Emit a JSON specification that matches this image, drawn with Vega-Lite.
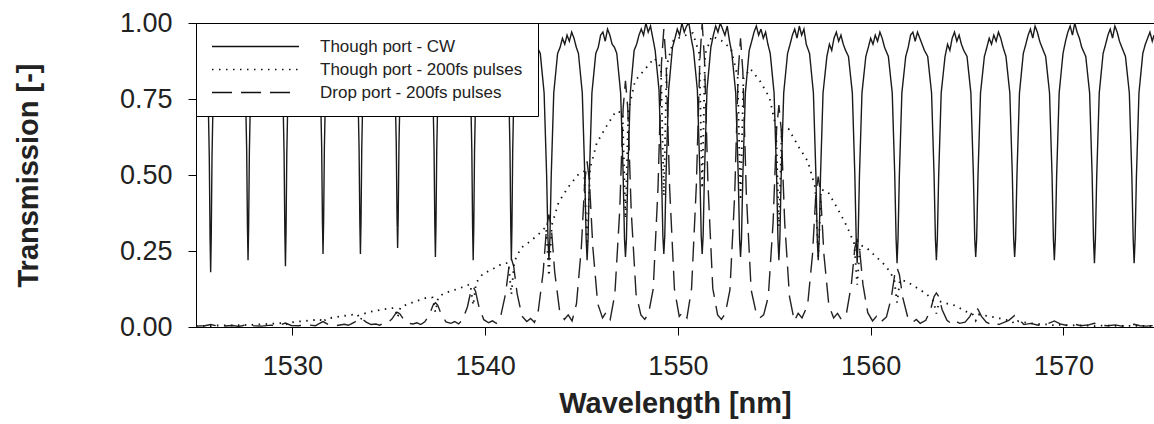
{
"$schema":"https://vega.github.io/schema/vega-lite/v6.json",
"width":958,"height":304,
"autosize":"none",
"padding":{"left":196,"top":23,"right":0,"bottom":97},
"config":{"view":{"stroke":"#000","strokeWidth":1},"font":"Liberation Sans","background":"#fff"},
"datasets":{
"cw":[
{"w":1525.0,"t":0.99},
{"w":1525.36,"t":0.962},{"w":1525.61,"t":0.828},{"w":1525.69,"t":0.557},{"w":1525.73,"t":0.292},{"w":1525.76,"t":0.18},{"w":1525.79,"t":0.292},{"w":1525.83,"t":0.557},{"w":1525.91,"t":0.828},{"w":1526.16,"t":0.962},{"w":1526.73,"t":0.99},
{"w":1527.3,"t":0.964},{"w":1527.55,"t":0.836},{"w":1527.63,"t":0.579},{"w":1527.67,"t":0.326},{"w":1527.7,"t":0.22},{"w":1527.73,"t":0.326},{"w":1527.77,"t":0.579},{"w":1527.85,"t":0.836},{"w":1528.1,"t":0.964},{"w":1528.67,"t":0.99},
{"w":1529.24,"t":0.963},{"w":1529.49,"t":0.832},{"w":1529.57,"t":0.568},{"w":1529.61,"t":0.309},{"w":1529.64,"t":0.2},{"w":1529.67,"t":0.309},{"w":1529.71,"t":0.568},{"w":1529.79,"t":0.832},{"w":1530.04,"t":0.963},{"w":1530.61,"t":0.99},
{"w":1531.19,"t":0.965},{"w":1531.44,"t":0.84},{"w":1531.52,"t":0.59},{"w":1531.56,"t":0.344},{"w":1531.59,"t":0.24},{"w":1531.62,"t":0.344},{"w":1531.66,"t":0.59},{"w":1531.74,"t":0.84},{"w":1531.99,"t":0.965},{"w":1532.56,"t":0.99},
{"w":1533.13,"t":0.965},{"w":1533.38,"t":0.84},{"w":1533.46,"t":0.59},{"w":1533.5,"t":0.344},{"w":1533.53,"t":0.24},{"w":1533.56,"t":0.344},{"w":1533.6,"t":0.59},{"w":1533.68,"t":0.84},{"w":1533.93,"t":0.965},{"w":1534.5,"t":0.99},
{"w":1535.06,"t":0.965},{"w":1535.31,"t":0.844},{"w":1535.39,"t":0.6},{"w":1535.43,"t":0.361},{"w":1535.46,"t":0.26},{"w":1535.49,"t":0.361},{"w":1535.53,"t":0.6},{"w":1535.61,"t":0.844},{"w":1535.86,"t":0.965},{"w":1536.44,"t":0.99},
{"w":1537.02,"t":0.964},{"w":1537.27,"t":0.838},{"w":1537.35,"t":0.584},{"w":1537.39,"t":0.335},{"w":1537.42,"t":0.23},{"w":1537.45,"t":0.335},{"w":1537.49,"t":0.584},{"w":1537.57,"t":0.838},{"w":1537.82,"t":0.964},{"w":1538.4,"t":0.99},
{"w":1538.98,"t":0.964},{"w":1539.23,"t":0.836},{"w":1539.31,"t":0.579},{"w":1539.35,"t":0.326},{"w":1539.38,"t":0.22},{"w":1539.41,"t":0.326},{"w":1539.45,"t":0.579},{"w":1539.53,"t":0.836},{"w":1539.78,"t":0.964},{"w":1540.37,"t":0.99},
{"w":1540.96,"t":0.964},{"w":1541.21,"t":0.836},{"w":1541.29,"t":0.579},{"w":1541.33,"t":0.326},{"w":1541.36,"t":0.22},{"w":1541.39,"t":0.326},{"w":1541.43,"t":0.579},{"w":1541.51,"t":0.836},{"w":1541.76,"t":0.964},{"w":1542.33,"t":0.97},
{"w":1542.86,"t":0.9},{"w":1543.06,"t":0.77},{"w":1543.19,"t":0.5},{"w":1543.26,"t":0.29},{"w":1543.31,"t":0.22},{"w":1543.36,"t":0.29},{"w":1543.43,"t":0.5},{"w":1543.56,"t":0.77},{"w":1543.76,"t":0.9},
{"w":1543.89,"t":0.92},{"w":1544.01,"t":0.95},{"w":1544.13,"t":0.93},{"w":1544.25,"t":0.96},{"w":1544.37,"t":0.94},{"w":1544.49,"t":0.97},{"w":1544.61,"t":0.95},{"w":1544.73,"t":0.92},
{"w":1544.84,"t":0.9},{"w":1545.04,"t":0.77},{"w":1545.17,"t":0.5},{"w":1545.24,"t":0.29},{"w":1545.29,"t":0.22},{"w":1545.34,"t":0.29},{"w":1545.41,"t":0.5},{"w":1545.54,"t":0.77},{"w":1545.74,"t":0.9},
{"w":1545.87,"t":0.92},{"w":1545.99,"t":0.96},{"w":1546.11,"t":0.97},{"w":1546.23,"t":0.94},{"w":1546.35,"t":0.98},{"w":1546.47,"t":0.96},{"w":1546.59,"t":0.93},{"w":1546.71,"t":0.92},
{"w":1546.83,"t":0.9},{"w":1547.03,"t":0.77},{"w":1547.16,"t":0.5},{"w":1547.23,"t":0.29},{"w":1547.28,"t":0.23},{"w":1547.33,"t":0.29},{"w":1547.4,"t":0.5},{"w":1547.53,"t":0.77},{"w":1547.73,"t":0.91},
{"w":1547.86,"t":0.93},{"w":1547.98,"t":0.96},{"w":1548.1,"t":0.98},{"w":1548.22,"t":0.96},{"w":1548.34,"t":1.0},{"w":1548.46,"t":0.97},{"w":1548.58,"t":0.99},{"w":1548.7,"t":0.95},
{"w":1548.82,"t":0.91},{"w":1549.02,"t":0.78},{"w":1549.15,"t":0.51},{"w":1549.22,"t":0.3},{"w":1549.27,"t":0.24},{"w":1549.32,"t":0.3},{"w":1549.39,"t":0.51},{"w":1549.52,"t":0.78},{"w":1549.72,"t":0.92},
{"w":1549.85,"t":0.95},{"w":1549.97,"t":0.98},{"w":1550.09,"t":0.96},{"w":1550.21,"t":1.0},{"w":1550.33,"t":0.97},{"w":1550.45,"t":0.99},{"w":1550.57,"t":1.0},{"w":1550.69,"t":0.95},
{"w":1550.81,"t":0.91},{"w":1551.01,"t":0.78},{"w":1551.14,"t":0.51},{"w":1551.21,"t":0.3},{"w":1551.26,"t":0.24},{"w":1551.31,"t":0.3},{"w":1551.38,"t":0.51},{"w":1551.51,"t":0.78},{"w":1551.71,"t":0.92},
{"w":1551.84,"t":0.96},{"w":1551.96,"t":0.99},{"w":1552.08,"t":0.97},{"w":1552.2,"t":1.0},{"w":1552.32,"t":0.98},{"w":1552.44,"t":0.96},{"w":1552.56,"t":0.99},{"w":1552.68,"t":0.94},
{"w":1552.8,"t":0.9},{"w":1553.0,"t":0.77},{"w":1553.13,"t":0.5},{"w":1553.2,"t":0.29},{"w":1553.25,"t":0.23},{"w":1553.3,"t":0.29},{"w":1553.37,"t":0.5},{"w":1553.5,"t":0.77},{"w":1553.7,"t":0.91},
{"w":1553.83,"t":0.94},{"w":1553.95,"t":0.97},{"w":1554.07,"t":0.99},{"w":1554.19,"t":0.96},{"w":1554.31,"t":0.98},{"w":1554.43,"t":0.95},{"w":1554.55,"t":0.97},{"w":1554.67,"t":0.93},
{"w":1554.79,"t":0.9},{"w":1554.99,"t":0.77},{"w":1555.12,"t":0.5},{"w":1555.19,"t":0.29},{"w":1555.24,"t":0.22},{"w":1555.29,"t":0.29},{"w":1555.36,"t":0.5},{"w":1555.49,"t":0.77},{"w":1555.69,"t":0.9},
{"w":1555.82,"t":0.93},{"w":1555.94,"t":0.96},{"w":1556.06,"t":0.98},{"w":1556.18,"t":0.95},{"w":1556.3,"t":0.99},{"w":1556.42,"t":0.96},{"w":1556.54,"t":0.98},{"w":1556.66,"t":0.93},
{"w":1556.83,"t":0.9},{"w":1557.03,"t":0.77},{"w":1557.16,"t":0.5},{"w":1557.23,"t":0.29},{"w":1557.28,"t":0.22},{"w":1557.33,"t":0.29},{"w":1557.4,"t":0.5},{"w":1557.53,"t":0.77},{"w":1557.73,"t":0.89},
{"w":1557.86,"t":0.93},{"w":1557.98,"t":0.91},{"w":1558.1,"t":0.95},{"w":1558.22,"t":0.97},{"w":1558.34,"t":0.94},{"w":1558.46,"t":0.96},{"w":1558.58,"t":0.93},{"w":1558.7,"t":0.91},
{"w":1558.85,"t":0.89},{"w":1559.05,"t":0.77},{"w":1559.18,"t":0.5},{"w":1559.25,"t":0.29},{"w":1559.3,"t":0.21},{"w":1559.35,"t":0.29},{"w":1559.42,"t":0.5},{"w":1559.55,"t":0.77},{"w":1559.75,"t":0.89},
{"w":1559.88,"t":0.92},{"w":1560.0,"t":0.95},{"w":1560.12,"t":0.93},{"w":1560.24,"t":0.96},{"w":1560.36,"t":0.94},{"w":1560.48,"t":0.97},{"w":1560.6,"t":0.95},{"w":1560.72,"t":0.92},
{"w":1560.92,"t":0.89},{"w":1561.12,"t":0.77},{"w":1561.25,"t":0.5},{"w":1561.32,"t":0.29},{"w":1561.37,"t":0.21},{"w":1561.42,"t":0.29},{"w":1561.49,"t":0.5},{"w":1561.62,"t":0.77},{"w":1561.82,"t":0.89},
{"w":1561.95,"t":0.92},{"w":1562.07,"t":0.96},{"w":1562.19,"t":0.97},{"w":1562.31,"t":0.94},{"w":1562.43,"t":0.97},{"w":1562.55,"t":0.95},{"w":1562.67,"t":0.93},{"w":1562.79,"t":0.91},
{"w":1562.96,"t":0.89},{"w":1563.16,"t":0.77},{"w":1563.29,"t":0.5},{"w":1563.36,"t":0.29},{"w":1563.41,"t":0.22},{"w":1563.46,"t":0.29},{"w":1563.53,"t":0.5},{"w":1563.66,"t":0.77},{"w":1563.86,"t":0.89},
{"w":1563.99,"t":0.93},{"w":1564.11,"t":0.91},{"w":1564.23,"t":0.95},{"w":1564.35,"t":0.97},{"w":1564.47,"t":0.94},{"w":1564.59,"t":0.96},{"w":1564.71,"t":0.93},{"w":1564.83,"t":0.91},
{"w":1565.0,"t":0.89},{"w":1565.2,"t":0.77},{"w":1565.33,"t":0.5},{"w":1565.4,"t":0.29},{"w":1565.45,"t":0.23},{"w":1565.5,"t":0.29},{"w":1565.57,"t":0.5},{"w":1565.7,"t":0.77},{"w":1565.9,"t":0.89},
{"w":1566.03,"t":0.92},{"w":1566.15,"t":0.95},{"w":1566.27,"t":0.93},{"w":1566.39,"t":0.96},{"w":1566.51,"t":0.94},{"w":1566.63,"t":0.97},{"w":1566.75,"t":0.95},{"w":1566.87,"t":0.92},
{"w":1567.02,"t":0.89},{"w":1567.22,"t":0.77},{"w":1567.35,"t":0.5},{"w":1567.42,"t":0.29},{"w":1567.47,"t":0.23},{"w":1567.52,"t":0.29},{"w":1567.59,"t":0.5},{"w":1567.72,"t":0.77},{"w":1567.92,"t":0.9},
{"w":1568.05,"t":0.93},{"w":1568.17,"t":0.96},{"w":1568.29,"t":0.98},{"w":1568.41,"t":0.95},{"w":1568.53,"t":0.99},{"w":1568.65,"t":0.97},{"w":1568.77,"t":0.94},{"w":1568.89,"t":0.92},
{"w":1569.08,"t":0.89},{"w":1569.28,"t":0.77},{"w":1569.41,"t":0.5},{"w":1569.48,"t":0.29},{"w":1569.53,"t":0.22},{"w":1569.58,"t":0.29},{"w":1569.65,"t":0.5},{"w":1569.78,"t":0.77},{"w":1569.98,"t":0.9},
{"w":1570.11,"t":0.94},{"w":1570.23,"t":0.97},{"w":1570.35,"t":0.99},{"w":1570.47,"t":0.96},{"w":1570.59,"t":1.0},{"w":1570.71,"t":0.97},{"w":1570.83,"t":0.95},{"w":1570.95,"t":0.92},
{"w":1571.16,"t":0.89},{"w":1571.36,"t":0.77},{"w":1571.49,"t":0.5},{"w":1571.56,"t":0.29},{"w":1571.61,"t":0.21},{"w":1571.66,"t":0.29},{"w":1571.73,"t":0.5},{"w":1571.86,"t":0.77},{"w":1572.06,"t":0.9},
{"w":1572.19,"t":0.93},{"w":1572.31,"t":0.96},{"w":1572.43,"t":0.98},{"w":1572.55,"t":0.95},{"w":1572.67,"t":0.99},{"w":1572.79,"t":0.97},{"w":1572.91,"t":0.94},{"w":1573.03,"t":0.92},
{"w":1573.22,"t":0.89},{"w":1573.42,"t":0.77},{"w":1573.55,"t":0.5},{"w":1573.62,"t":0.29},{"w":1573.67,"t":0.21},{"w":1573.72,"t":0.29},{"w":1573.79,"t":0.5},{"w":1573.92,"t":0.77},{"w":1574.12,"t":0.9},
{"w":1574.25,"t":0.93},{"w":1574.37,"t":0.95},{"w":1574.49,"t":0.97},{"w":1574.61,"t":0.94},{"w":1574.7,"t":0.96}
],
"tp":[
{"w":1525.0,"t":0.004},{"w":1525.5,"t":0.004},
{"w":1525.61,"t":0.004},{"w":1525.76,"t":0.003},{"w":1525.91,"t":0.005},{"w":1526.5,"t":0.005},{"w":1527.1,"t":0.006},
{"w":1527.55,"t":0.007},{"w":1527.7,"t":0.004},{"w":1527.85,"t":0.007},{"w":1528.4,"t":0.009},{"w":1529.0,"t":0.011},
{"w":1529.49,"t":0.013},{"w":1529.64,"t":0.007},{"w":1529.79,"t":0.014},{"w":1530.3,"t":0.018},{"w":1531.0,"t":0.022},
{"w":1531.44,"t":0.025},{"w":1531.59,"t":0.014},{"w":1531.74,"t":0.027},{"w":1532.3,"t":0.033},{"w":1532.9,"t":0.039},
{"w":1533.38,"t":0.042},{"w":1533.47,"t":0.03},{"w":1533.53,"t":0.022},{"w":1533.59,"t":0.03},{"w":1533.68,"t":0.043},{"w":1534.03,"t":0.05},{"w":1534.53,"t":0.056},{"w":1535.03,"t":0.061},
{"w":1535.31,"t":0.063},{"w":1535.4,"t":0.044},{"w":1535.46,"t":0.032},{"w":1535.52,"t":0.045},{"w":1535.61,"t":0.065},{"w":1535.96,"t":0.075},{"w":1536.46,"t":0.086},{"w":1536.96,"t":0.096},
{"w":1537.27,"t":0.097},{"w":1537.36,"t":0.068},{"w":1537.42,"t":0.049},{"w":1537.48,"t":0.069},{"w":1537.57,"t":0.099},{"w":1537.92,"t":0.112},{"w":1538.42,"t":0.122},{"w":1538.92,"t":0.133},
{"w":1539.23,"t":0.141},{"w":1539.32,"t":0.099},{"w":1539.38,"t":0.071},{"w":1539.44,"t":0.1},{"w":1539.53,"t":0.145},{"w":1539.88,"t":0.175},{"w":1540.38,"t":0.19},{"w":1540.88,"t":0.208},
{"w":1541.21,"t":0.211},{"w":1541.3,"t":0.148},{"w":1541.36,"t":0.107},{"w":1541.42,"t":0.15},{"w":1541.51,"t":0.215},{"w":1541.86,"t":0.26},{"w":1542.36,"t":0.283},{"w":1542.86,"t":0.31},
{"w":1543.16,"t":0.33},{"w":1543.25,"t":0.231},{"w":1543.31,"t":0.167},{"w":1543.37,"t":0.235},{"w":1543.46,"t":0.335},{"w":1543.81,"t":0.41},{"w":1544.31,"t":0.46},{"w":1544.81,"t":0.5},
{"w":1545.14,"t":0.512},{"w":1545.23,"t":0.358},{"w":1545.29,"t":0.259},{"w":1545.35,"t":0.36},{"w":1545.44,"t":0.52},{"w":1545.79,"t":0.605},{"w":1546.29,"t":0.66},{"w":1546.79,"t":0.71},
{"w":1547.13,"t":0.705},{"w":1547.22,"t":0.493},{"w":1547.28,"t":0.356},{"w":1547.34,"t":0.495},{"w":1547.43,"t":0.712},{"w":1547.78,"t":0.81},{"w":1548.28,"t":0.847},{"w":1548.78,"t":0.885},
{"w":1549.12,"t":0.853},{"w":1549.21,"t":0.596},{"w":1549.27,"t":0.431},{"w":1549.33,"t":0.6},{"w":1549.42,"t":0.86},{"w":1549.77,"t":0.943},{"w":1550.27,"t":0.957},{"w":1550.77,"t":0.967},
{"w":1551.11,"t":0.9},{"w":1551.2,"t":0.629},{"w":1551.26,"t":0.455},{"w":1551.32,"t":0.628},{"w":1551.41,"t":0.898},{"w":1551.76,"t":0.957},{"w":1552.26,"t":0.942},{"w":1552.76,"t":0.915},
{"w":1553.1,"t":0.823},{"w":1553.19,"t":0.575},{"w":1553.25,"t":0.416},{"w":1553.31,"t":0.572},{"w":1553.4,"t":0.817},{"w":1553.75,"t":0.85},{"w":1554.25,"t":0.81},{"w":1554.75,"t":0.755},
{"w":1555.09,"t":0.656},{"w":1555.18,"t":0.458},{"w":1555.24,"t":0.331},{"w":1555.3,"t":0.455},{"w":1555.39,"t":0.648},{"w":1555.74,"t":0.652},{"w":1556.24,"t":0.595},{"w":1556.74,"t":0.545},
{"w":1557.13,"t":0.458},{"w":1557.22,"t":0.32},{"w":1557.28,"t":0.231},{"w":1557.34,"t":0.318},{"w":1557.43,"t":0.452},{"w":1557.78,"t":0.445},{"w":1558.28,"t":0.39},{"w":1558.78,"t":0.33},
{"w":1559.15,"t":0.274},{"w":1559.24,"t":0.192},{"w":1559.3,"t":0.139},{"w":1559.36,"t":0.19},{"w":1559.45,"t":0.27},{"w":1559.8,"t":0.26},{"w":1560.3,"t":0.23},{"w":1560.8,"t":0.2},
{"w":1561.22,"t":0.158},{"w":1561.31,"t":0.11},{"w":1561.37,"t":0.08},{"w":1561.43,"t":0.109},{"w":1561.52,"t":0.155},{"w":1561.87,"t":0.15},{"w":1562.37,"t":0.13},{"w":1562.87,"t":0.11},
{"w":1563.26,"t":0.086},{"w":1563.35,"t":0.06},{"w":1563.41,"t":0.044},{"w":1563.47,"t":0.06},{"w":1563.56,"t":0.085},{"w":1563.91,"t":0.078},{"w":1564.41,"t":0.07},{"w":1564.91,"t":0.052},
{"w":1565.3,"t":0.041},{"w":1565.45,"t":0.021},{"w":1565.6,"t":0.041},{"w":1566.1,"t":0.036},{"w":1566.7,"t":0.028},
{"w":1567.32,"t":0.019},{"w":1567.47,"t":0.01},{"w":1567.62,"t":0.019},{"w":1568.2,"t":0.013},{"w":1568.9,"t":0.009},
{"w":1569.38,"t":0.008},{"w":1569.53,"t":0.004},{"w":1569.68,"t":0.007},{"w":1570.3,"t":0.006},{"w":1571.0,"t":0.005},
{"w":1571.46,"t":0.005},{"w":1571.61,"t":0.003},{"w":1571.76,"t":0.005},{"w":1572.5,"t":0.004},
{"w":1573.52,"t":0.004},{"w":1573.67,"t":0.002},{"w":1573.82,"t":0.004},{"w":1574.7,"t":0.003}
],
"dp":[
{"w":1525.0,"t":0.003},
{"w":1525.46,"t":0.004},{"w":1525.76,"t":0.008},{"w":1526.06,"t":0.004},{"w":1526.4,"t":0.003},{"w":1526.9,"t":0.005},{"w":1527.2,"t":0.002},
{"w":1527.4,"t":0.004},{"w":1527.7,"t":0.009},{"w":1528.0,"t":0.004},{"w":1528.4,"t":0.003},{"w":1528.9,"t":0.006},{"w":1529.2,"t":0.003},
{"w":1529.34,"t":0.006},{"w":1529.64,"t":0.013},{"w":1529.94,"t":0.005},{"w":1530.3,"t":0.004},{"w":1530.8,"t":0.007},{"w":1531.2,"t":0.004},
{"w":1531.29,"t":0.008},{"w":1531.59,"t":0.018},{"w":1531.89,"t":0.007},{"w":1532.3,"t":0.005},{"w":1532.7,"t":0.009},{"w":1532.9,"t":0.006},
{"w":1532.98,"t":0.008},{"w":1533.23,"t":0.016},{"w":1533.41,"t":0.025},{"w":1533.53,"t":0.028},{"w":1533.65,"t":0.025},{"w":1533.83,"t":0.016},{"w":1534.08,"t":0.008},{"w":1534.33,"t":0.01},{"w":1534.53,"t":0.006},{"w":1534.73,"t":0.012},
{"w":1534.91,"t":0.012},{"w":1535.16,"t":0.026},{"w":1535.34,"t":0.043},{"w":1535.46,"t":0.048},{"w":1535.58,"t":0.043},{"w":1535.76,"t":0.026},{"w":1536.01,"t":0.012},{"w":1536.26,"t":0.01},{"w":1536.46,"t":0.014},{"w":1536.66,"t":0.008},
{"w":1536.87,"t":0.017},{"w":1537.12,"t":0.042},{"w":1537.3,"t":0.072},{"w":1537.42,"t":0.08},{"w":1537.54,"t":0.072},{"w":1537.72,"t":0.042},{"w":1537.97,"t":0.017},{"w":1538.22,"t":0.012},{"w":1538.42,"t":0.018},{"w":1538.62,"t":0.01},
{"w":1538.83,"t":0.024},{"w":1539.08,"t":0.066},{"w":1539.26,"t":0.118},{"w":1539.38,"t":0.132},{"w":1539.5,"t":0.118},{"w":1539.68,"t":0.066},{"w":1539.93,"t":0.024},{"w":1540.18,"t":0.014},{"w":1540.38,"t":0.02},{"w":1540.58,"t":0.012},
{"w":1540.81,"t":0.036},{"w":1541.06,"t":0.11},{"w":1541.24,"t":0.2},{"w":1541.36,"t":0.225},{"w":1541.48,"t":0.2},{"w":1541.66,"t":0.11},{"w":1541.91,"t":0.036},{"w":1542.16,"t":0.018},{"w":1542.36,"t":0.028},{"w":1542.56,"t":0.015},
{"w":1542.76,"t":0.055},{"w":1543.01,"t":0.18},{"w":1543.19,"t":0.33},{"w":1543.31,"t":0.37},{"w":1543.43,"t":0.33},{"w":1543.61,"t":0.18},{"w":1543.86,"t":0.055},{"w":1544.11,"t":0.025},{"w":1544.31,"t":0.04},{"w":1544.51,"t":0.02},
{"w":1544.74,"t":0.077},{"w":1544.99,"t":0.26},{"w":1545.17,"t":0.48},{"w":1545.29,"t":0.545},{"w":1545.41,"t":0.48},{"w":1545.59,"t":0.26},{"w":1545.84,"t":0.077},{"w":1546.09,"t":0.03},{"w":1546.29,"t":0.05},{"w":1546.49,"t":0.025},
{"w":1546.73,"t":0.108},{"w":1546.98,"t":0.38},{"w":1547.16,"t":0.72},{"w":1547.28,"t":0.81},{"w":1547.4,"t":0.72},{"w":1547.58,"t":0.38},{"w":1547.83,"t":0.108},{"w":1548.08,"t":0.04},{"w":1548.28,"t":0.025},{"w":1548.48,"t":0.045},
{"w":1548.72,"t":0.125},{"w":1548.97,"t":0.46},{"w":1549.15,"t":0.87},{"w":1549.27,"t":0.98},{"w":1549.39,"t":0.87},{"w":1549.57,"t":0.46},{"w":1549.82,"t":0.125},{"w":1550.07,"t":0.035},{"w":1550.27,"t":0.05},{"w":1550.47,"t":0.03},
{"w":1550.71,"t":0.127},{"w":1550.96,"t":0.47},{"w":1551.14,"t":0.88},{"w":1551.26,"t":1.0},{"w":1551.38,"t":0.88},{"w":1551.56,"t":0.47},{"w":1551.81,"t":0.127},{"w":1552.06,"t":0.04},{"w":1552.26,"t":0.025},{"w":1552.46,"t":0.045},
{"w":1552.7,"t":0.122},{"w":1552.95,"t":0.44},{"w":1553.13,"t":0.84},{"w":1553.25,"t":0.95},{"w":1553.37,"t":0.84},{"w":1553.55,"t":0.44},{"w":1553.8,"t":0.122},{"w":1554.05,"t":0.05},{"w":1554.25,"t":0.03},{"w":1554.45,"t":0.04},
{"w":1554.69,"t":0.1},{"w":1554.94,"t":0.345},{"w":1555.12,"t":0.65},{"w":1555.24,"t":0.73},{"w":1555.36,"t":0.65},{"w":1555.54,"t":0.345},{"w":1555.79,"t":0.1},{"w":1556.04,"t":0.02},{"w":1556.24,"t":0.045},{"w":1556.44,"t":0.03},
{"w":1556.73,"t":0.072},{"w":1556.98,"t":0.236},{"w":1557.16,"t":0.44},{"w":1557.28,"t":0.495},{"w":1557.4,"t":0.44},{"w":1557.58,"t":0.236},{"w":1557.83,"t":0.072},{"w":1558.08,"t":0.03},{"w":1558.28,"t":0.045},{"w":1558.48,"t":0.025},
{"w":1558.75,"t":0.047},{"w":1559.0,"t":0.14},{"w":1559.18,"t":0.26},{"w":1559.3,"t":0.29},{"w":1559.42,"t":0.26},{"w":1559.6,"t":0.14},{"w":1559.85,"t":0.047},{"w":1560.1,"t":0.02},{"w":1560.3,"t":0.035},{"w":1560.5,"t":0.015},
{"w":1560.82,"t":0.033},{"w":1561.07,"t":0.096},{"w":1561.25,"t":0.173},{"w":1561.37,"t":0.195},{"w":1561.49,"t":0.173},{"w":1561.67,"t":0.096},{"w":1561.92,"t":0.033},{"w":1562.17,"t":0.015},{"w":1562.37,"t":0.025},{"w":1562.57,"t":0.012},
{"w":1562.86,"t":0.022},{"w":1563.11,"t":0.057},{"w":1563.29,"t":0.1},{"w":1563.41,"t":0.112},{"w":1563.53,"t":0.1},{"w":1563.71,"t":0.057},{"w":1563.96,"t":0.022},{"w":1564.21,"t":0.01},{"w":1564.41,"t":0.02},{"w":1564.61,"t":0.012},
{"w":1564.9,"t":0.016},{"w":1565.15,"t":0.035},{"w":1565.33,"t":0.058},{"w":1565.45,"t":0.065},{"w":1565.57,"t":0.058},{"w":1565.75,"t":0.035},{"w":1566.0,"t":0.016},{"w":1566.25,"t":0.008},{"w":1566.45,"t":0.014},{"w":1566.65,"t":0.008},
{"w":1567.17,"t":0.022},{"w":1567.47,"t":0.038},{"w":1567.77,"t":0.02},{"w":1567.95,"t":0.008},{"w":1568.3,"t":0.012},{"w":1568.7,"t":0.006},
{"w":1569.23,"t":0.012},{"w":1569.53,"t":0.02},{"w":1569.83,"t":0.01},{"w":1570.2,"t":0.005},{"w":1570.6,"t":0.009},{"w":1570.9,"t":0.004},
{"w":1571.31,"t":0.007},{"w":1571.61,"t":0.012},{"w":1571.91,"t":0.006},{"w":1572.3,"t":0.004},{"w":1572.7,"t":0.007},{"w":1573.0,"t":0.003},
{"w":1573.37,"t":0.005},{"w":1573.67,"t":0.009},{"w":1573.97,"t":0.004},{"w":1574.3,"t":0.003},{"w":1574.7,"t":0.005}
]
},
"encoding":{
"x":{"field":"w","type":"quantitative","scale":{"domain":[1525,1574.7],"nice":false,"zero":false},
"axis":{"title":"Wavelength [nm]","values":[1530,1540,1550,1560,1570],"format":"d","grid":false,"labelFlush":false,"tickSize":8,"tickColor":"#000","domainColor":"#000","labelFontSize":27,"labelColor":"#222","labelPadding":18,"titleFontSize":29,"titleFontWeight":"bold","titleColor":"#222","titlePadding":10}},
"y":{"field":"t","type":"quantitative","scale":{"domain":[0,1],"nice":false},
"axis":{"title":"Transmission [-]","values":[0,0.25,0.5,0.75,1],"format":".2f","grid":false,"tickSize":8,"tickColor":"#000","domainColor":"#000","labelFontSize":27,"labelColor":"#222","labelPadding":16,"titleFontSize":29,"titleFontWeight":"bold","titleColor":"#222","titlePadding":76}}
},
"layer":[
{"data":{"name":"dp"},"mark":{"type":"line","stroke":"#222","strokeWidth":1.4,"clip":true},
"encoding":{"strokeDash":{"datum":"Drop port - 200fs pulses","type":"nominal",
"scale":{"domain":["Though port - CW","Though port - 200fs pulses","Drop port - 200fs pulses"],"range":[[1,0],[1.5,5.5],[20,9]]},
"legend":{"orient":"none","legendX":0,"legendY":0,"title":null,"fillColor":"#fff","strokeColor":"#000","padding":15,"cornerRadius":0,"symbolType":"stroke","symbolSize":7569,"symbolStrokeWidth":1.5,"symbolStrokeColor":"#111","symbolFillColor":"transparent","clipHeight":17,"rowPadding":5,"labelOffset":20,"labelFontSize":17,"labelColor":"#222","labelLimit":400}}}},
{"data":{"name":"tp"},"mark":{"type":"line","stroke":"#111","strokeWidth":1.8,"clip":true},
"encoding":{"strokeDash":{"datum":"Though port - 200fs pulses","type":"nominal"}}},
{"data":{"name":"cw"},"mark":{"type":"line","stroke":"#1a1a1a","strokeWidth":1.4,"clip":true},
"encoding":{"strokeDash":{"datum":"Though port - CW","type":"nominal"}}}
]
}
